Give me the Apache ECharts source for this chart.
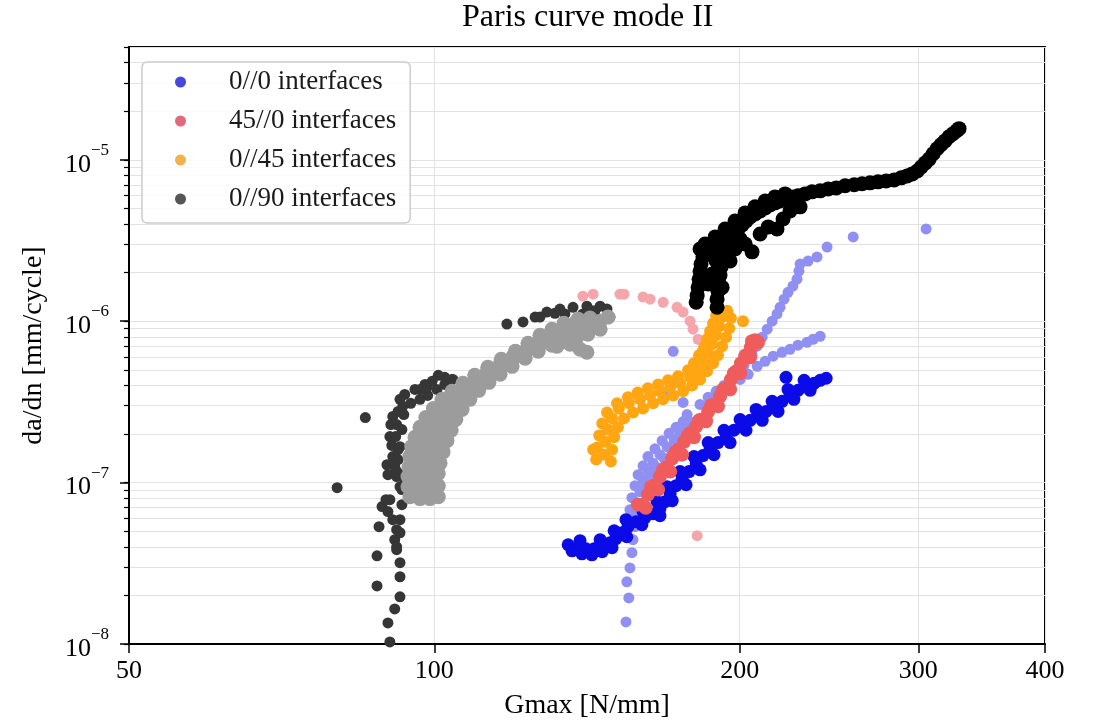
<!DOCTYPE html>
<html>
<head>
<meta charset="utf-8">
<title>Paris curve mode II</title>
<script src="https://cdn.jsdelivr.net/npm/echarts@6/dist/echarts.min.js"></script>
<style>
  html, body { margin: 0; padding: 0; background: #fff; }
  #main { width: 1097px; height: 724px; }
</style>
</head>
<body>
<div id="main"></div>
<script>
// legend entries and tick values
const legendNames = ['0//0 interfaces', '45//0 interfaces', '0//45 interfaces', '0//90 interfaces']
const xTicks = [50, 100, 200, 300, 400]
const yDecades = [1e-8, 1e-7, 1e-6, 1e-5]
const yMantissas = [1, 2, 3, 4, 5, 6, 7, 8, 9]

// [Gmax N/mm, da/dn mm/cycle]
const pinkPts = [[140.1,1.43e-6],[143.4,1.47e-6],[152.4,1.47e-6],[153.8,1.47e-6],[160.6,1.41e-6],[163.2,1.37e-6],[168.1,1.31e-6],[173.5,1.22e-6],[175.9,1.14e-6],[178.7,1.00e-6],[179.9,8.92e-7],[182.0,7.73e-7],[183.6,6.51e-7],[184.5,5.49e-7],[181.6,4.69e-8]]

const lightBluePts = [
  [154.5,1.37e-8],[155.5,1.93e-8],[154.8,2.43e-8],[155.9,2.96e-8],[156.6,3.68e-8],[157.0,4.43e-8],[157.7,5.33e-8],
  [158.1,6.33e-8],[158.4,7.51e-8],[159.5,8.79e-8],[160.6,1.04e-7],[162.4,1.18e-7],[164.3,1.32e-7],[166.9,1.49e-7],[169.6,1.67e-7],[172.4,1.85e-7],[174.7,2.05e-7],[177.5,2.23e-7],[179.9,2.36e-7],
  [158.8,7.00e-8],[161.3,9.30e-8],[163.6,1.10e-7],[165.8,1.24e-7],[168.4,1.42e-7],[171.2,1.60e-7],[173.9,1.79e-7],[176.3,1.96e-7],
  [155.9,6.80e-8],[156.6,8.07e-8],[157.7,9.57e-8],[158.8,1.12e-7],[160.6,1.27e-7],[162.4,1.45e-7],[165.0,1.62e-7],[167.7,1.82e-7],[170.4,2.02e-7],[173.1,2.20e-7],[175.9,2.39e-7],
  [182.8,3.05e-7],[186.2,3.38e-7],[189.6,3.68e-7],[193.0,4.00e-7],[196.6,4.43e-7],[199.3,4.89e-7],[202.0,5.33e-7],
  [205.7,6.24e-7],[208.1,7.00e-7],[210.5,7.96e-7],[212.9,8.92e-7],[215.3,1.00e-6],[217.7,1.11e-6],[219.2,1.22e-6],[221.2,1.37e-6],[223.2,1.51e-6],[225.7,1.65e-6],[227.8,1.82e-6],[228.8,2.04e-6],[229.4,2.26e-6],[233.6,2.36e-6],[238.4,2.50e-6],[243.9,2.88e-6],[258.8,3.33e-6],[305.4,3.73e-6],
  [200.2,4.36e-7],[203.9,4.69e-7],[208.1,5.25e-7],[211.9,5.64e-7],[215.8,6.07e-7],[220.2,6.42e-7],[224.2,6.70e-7],[228.3,7.10e-7],[233.0,7.40e-7],[236.3,7.73e-7],[240.1,8.07e-7],
  [172.0,6.51e-7],[169.6,3.62e-7],[173.5,4.18e-7],[177.5,2.64e-7],[175.9,3.14e-7]
]

const darkBluePts = [
  [135.5,4.12e-8],[138.2,3.95e-8],[141.1,3.89e-8],[143.7,3.89e-8],[146.7,4.06e-8],[149.0,4.24e-8],[151.0,4.49e-8],[153.1,4.89e-8],[155.2,5.33e-8],[158.1,5.73e-8],[161.3,6.07e-8],[164.3,6.42e-8],[166.9,6.90e-8],[168.8,7.62e-8],[170.8,8.54e-8],[173.1,9.57e-8],[175.5,1.06e-7],[178.3,1.17e-7],[181.2,1.31e-7],[184.0,1.47e-7],[187.0,1.62e-7],[190.4,1.77e-7],[193.9,1.93e-7],[197.4,2.11e-7],[201.1,2.26e-7],[204.8,2.43e-7],[208.6,2.60e-7],[212.4,2.76e-7],[216.2,2.92e-7],[220.2,3.19e-7],[224.2,3.47e-7],[228.3,3.73e-7],[232.5,3.94e-7],[236.8,4.12e-7],[240.1,4.30e-7],[243.4,4.43e-7],
  [136.7,3.78e-8],[139.8,3.62e-8],[143.0,3.57e-8],[146.4,3.73e-8],[149.7,3.95e-8],[154.8,4.62e-8],[160.2,5.49e-8],[166.9,6.24e-8],[171.6,7.73e-8],[177.1,9.70e-8],[182.8,1.20e-7],[188.7,1.49e-7],[195.7,1.77e-7],[202.9,2.11e-7],[210.5,2.43e-7],[218.2,2.76e-7],[226.2,3.28e-7],[234.7,3.73e-7],
  [139.2,4.37e-8],[145.7,4.43e-8],[150.4,5.03e-8],[154.5,5.89e-8],[160.6,6.61e-8],[165.8,7.62e-8],[169.6,9.43e-8],[174.7,1.17e-7],[180.3,1.45e-7],[186.2,1.77e-7],[193.0,2.11e-7],[200.2,2.46e-7],[207.6,2.84e-7],[215.3,3.19e-7],[223.2,3.78e-7],[231.5,4.30e-7],
  [222.2,4.49e-7]
]

const redPts = [
  [160.2,7.30e-8],[162.4,8.42e-8],[164.7,9.57e-8],[166.9,1.09e-7],[169.3,1.24e-7],[171.6,1.41e-7],[173.9,1.60e-7],[176.3,1.79e-7],[178.7,2.02e-7],[181.2,2.23e-7],[183.6,2.46e-7],[186.2,2.76e-7],[188.7,3.05e-7],[191.3,3.42e-7],[193.9,3.84e-7],[196.1,4.36e-7],[198.4,4.89e-7],[200.6,5.49e-7],[202.9,6.15e-7],[205.2,6.90e-7],[207.1,7.62e-7],
  [158.7,7.30e-8],[163.6,9.43e-8],[168.1,1.20e-7],[172.8,1.55e-7],[177.9,1.96e-7],[182.4,2.43e-7],[187.5,3.01e-7],[192.6,3.78e-7],[197.4,4.76e-7],[202.5,6.07e-7],[205.7,7.51e-7],
  [161.6,6.99e-8],[166.2,9.05e-8],[170.8,1.17e-7],[175.5,1.49e-7],[180.3,1.91e-7],[185.3,2.40e-7],[190.4,2.97e-7],[195.7,3.78e-7],[200.2,4.76e-7],[204.8,5.97e-7],[208.5,7.40e-7]
]

const orangePts = [
  [144.4,1.39e-7],[144.7,1.65e-7],[145.4,1.96e-7],[146.4,2.32e-7],[148.0,2.72e-7],[151.4,3.10e-7],[155.2,3.38e-7],[158.7,3.62e-7],[162.4,3.84e-7],[166.2,4.06e-7],[170.0,4.30e-7],[173.9,4.56e-7],[177.9,4.96e-7],[180.3,5.49e-7],[182.4,6.15e-7],[184.5,6.90e-7],[185.7,7.73e-7],[187.0,8.67e-7],[188.3,9.72e-7],[189.6,1.09e-6],
  [149.3,1.35e-7],[149.7,1.60e-7],[150.4,1.91e-7],[151.7,2.20e-7],[153.8,2.50e-7],[157.0,2.72e-7],[160.6,2.88e-7],[164.3,3.10e-7],[168.1,3.28e-7],[172.0,3.47e-7],[175.9,3.68e-7],[179.5,4.00e-7],[182.8,4.36e-7],[185.7,4.89e-7],[188.3,5.49e-7],[190.4,6.15e-7],[192.2,7.00e-7],[193.9,7.96e-7],[195.3,9.05e-7],[196.1,1.045e-6],
  [147.0,1.49e-7],[147.4,1.79e-7],[148.3,2.13e-7],[149.7,2.50e-7],[152.0,2.88e-7],[155.5,3.10e-7],[159.5,3.28e-7],[163.2,3.47e-7],[166.9,3.68e-7],[170.8,3.89e-7],[174.7,4.12e-7],[178.7,4.49e-7],[181.6,4.96e-7],[184.0,5.56e-7],[186.2,6.33e-7],[187.9,7.20e-7],[189.6,8.19e-7],[190.9,9.32e-7],[192.2,1.06e-6],
  [201.5,1.00e-6],[194.4,1.16e-6],[143.4,1.60e-7]
]

const darkGrayPts = [
  [122.3,9.9e-7],[125.7,1.06e-6],[129.1,1.14e-6],[133.0,1.19e-6],[137.0,1.22e-6],[141.4,1.24e-6],[145.7,1.24e-6],[148.0,1.19e-6],[149.0,1.06e-6],[140.1,1.11e-6],[134.5,1.11e-6],[144.0,1.16e-6],[131.5,1.12e-6],[142.4,1.17e-6],[127.1,1.06e-6],
  [104.3,4.36e-7],[102.4,4.06e-7],[100.6,3.78e-7],[98.5,3.47e-7],[96.8,3.28e-7],[94.8,3.10e-7],[93.1,2.97e-7],[92.1,2.76e-7],[91.0,2.57e-7],[90.6,2.29e-7],[90.4,1.93e-7],[90.8,1.70e-7],[91.0,1.45e-7],[91.4,1.27e-7],[91.8,1.09e-7],
  [93.5,3.52e-7],[95.7,3.78e-7],[97.9,4.06e-7],[92.5,3.28e-7],[91.8,2.29e-7],[92.1,1.60e-7],[91.6,1.20e-7],[92.9,2.13e-7],[93.3,2.64e-7],[102.4,4.49e-7],[99.5,4.24e-7],
  [117.9,9.6e-7],[100.9,4.62e-7],[98.3,3.89e-7],[85.5,2.53e-7],[80.2,9.3e-8],[96.8,3.78e-7],[104.1,4.36e-7],
  [91.6,1.93e-7],[92.5,1.67e-7],[92.1,1.39e-7],[89.8,1.29e-7],[92.1,1.15e-7],[90.0,1.12e-7],[92.5,9.43e-8],[89.6,7.84e-8],[90.4,7.84e-8],[92.9,7.30e-8],[88.8,7.10e-8],[90.0,6.61e-8],[92.5,5.89e-8],[91.0,5.89e-8],[88.2,5.33e-8],[91.8,5.11e-8],[91.4,4.43e-8],[92.5,4.89e-8],[91.8,4.00e-8],[91.8,3.84e-8],[87.8,3.52e-8],[92.5,3.19e-8],[92.5,2.61e-8],[87.8,2.29e-8],[92.5,1.96e-8],[91.4,1.65e-8],[90.0,1.35e-8],[90.4,1.03e-8],[93.5,1.04e-7],[92.9,9.05e-8]
]

const lightGrayPts = [
  [94.6,8.18e-8],[96.8,7.96e-8],[99.0,7.96e-8],[100.9,8.18e-8],
  [94.2,9.43e-8],[96.3,9.30e-8],[98.5,9.30e-8],[100.9,9.57e-8],
  [94.2,1.09e-7],[96.3,1.09e-7],[98.5,1.09e-7],[100.9,1.14e-7],
  [94.4,1.25e-7],[96.6,1.25e-7],[98.8,1.27e-7],[101.3,1.32e-7],
  [94.6,1.45e-7],[96.8,1.45e-7],[99.3,1.49e-7],[102.0,1.55e-7],
  [95.0,1.67e-7],[97.2,1.67e-7],[100.0,1.72e-7],[102.9,1.82e-7],
  [95.7,1.91e-7],[98.1,1.93e-7],[100.9,2.02e-7],[103.9,2.11e-7],
  [96.8,2.20e-7],[99.3,2.26e-7],[102.0,2.36e-7],[105.0,2.46e-7],
  [98.1,2.53e-7],[100.9,2.60e-7],[103.6,2.72e-7],[106.5,2.84e-7],
  [99.8,2.88e-7],[102.5,3.01e-7],[105.3,3.14e-7],[108.4,3.28e-7],
  [101.8,3.28e-7],[104.6,3.42e-7],[107.4,3.57e-7],[110.6,3.73e-7],
  [104.1,3.68e-7],[107.0,3.84e-7],[109.9,4.00e-7],[113.2,4.18e-7],
  [106.7,4.12e-7],[109.6,4.30e-7],[112.7,4.49e-7],[116.1,4.69e-7],
  [109.6,4.62e-7],[112.7,4.82e-7],[115.8,5.03e-7],[119.3,5.25e-7],
  [112.9,5.18e-7],[116.1,5.41e-7],[119.3,5.64e-7],[122.9,5.89e-7],
  [116.4,5.81e-7],[119.6,6.07e-7],[122.9,6.33e-7],[126.6,6.51e-7],
  [120.2,6.51e-7],[123.5,6.80e-7],[126.8,7.00e-7],[130.6,7.10e-7],
  [123.7,7.30e-7],[127.1,7.51e-7],[130.6,7.62e-7],[134.5,7.51e-7],
  [127.1,8.19e-7],[130.6,8.31e-7],[134.2,8.31e-7],[138.2,7.96e-7],
  [130.6,8.92e-7],[134.2,9.05e-7],[137.9,8.92e-7],[141.7,8.31e-7],
  [134.2,9.72e-7],[137.9,9.86e-7],[141.7,9.45e-7],[145.7,8.92e-7],
  [138.6,1.03e-6],[142.4,1.045e-6],[145.7,1.00e-6],[148.3,1.06e-6],
  [132.1,7.00e-7],[139.2,6.70e-7],[141.4,6.42e-7],[136.1,7.20e-7]
]

const blackPts = [
  [181.2,1.31e-6],[181.6,1.44e-6],[182.0,1.62e-6],[182.4,1.82e-6],[182.8,2.04e-6],[183.2,2.26e-6],[184.0,2.50e-6],
  [190.0,1.22e-6],[190.0,1.37e-6],[190.4,1.53e-6],[190.9,1.72e-6],[191.3,1.93e-6],[191.7,2.16e-6],[189.6,2.36e-6],
  [185.7,2.61e-6],[187.9,2.80e-6],[190.4,2.97e-6],[193.1,3.14e-6],[195.3,3.33e-6],[197.0,3.52e-6],[199.3,3.73e-6],[201.1,3.95e-6],[202.9,4.18e-6],[204.8,4.43e-6],[207.1,4.62e-6],[209.5,4.82e-6],[211.9,5.03e-6],[214.3,5.25e-6],[216.7,5.41e-6],[219.2,5.56e-6],[222.2,5.73e-6],[225.2,5.89e-6],[228.3,5.98e-6],[232.0,6.15e-6],[235.7,6.33e-6],[240.1,6.42e-6],[244.5,6.60e-6],[249.0,6.70e-6],[254.1,6.90e-6],[259.4,7.00e-6],[264.1,7.10e-6],[268.9,7.20e-6],[273.8,7.30e-6],[278.9,7.40e-6],[284.0,7.51e-6],[288.6,7.73e-6],[292.5,7.95e-6],[295.9,8.18e-6],[299.3,8.52e-6],[302.0,9.03e-6],[304.8,9.57e-6],[307.5,1.01e-5],[310.3,1.09e-5],[313.1,1.17e-5],[315.9,1.24e-5],[318.8,1.31e-5],[321.7,1.39e-5],[324.6,1.45e-5],[327.6,1.52e-5],[329.1,1.56e-5],
  [187.9,1.96e-6],[186.2,1.70e-6],[193.5,2.61e-6],[197.9,2.80e-6],[202.5,3.01e-6],[205.7,2.69e-6],[209.5,3.47e-6],[213.4,3.84e-6],[217.7,3.73e-6],[220.7,4.30e-6],[224.2,4.82e-6],[229.4,5.11e-6],[200.2,3.23e-6],[195.7,2.36e-6],[192.2,1.62e-6],
  [184.9,3.01e-6],[189.2,3.33e-6],[193.5,3.73e-6],[197.9,4.18e-6],[202.5,4.69e-6],[207.1,5.11e-6],[211.9,5.56e-6],[216.7,5.89e-6],[221.7,6.15e-6],[182.8,2.80e-6]
]

const serif = "'Liberation Serif', 'DejaVu Serif', serif"
const legendColors = ['#4747dc', '#e2687a', '#f0b24f', '#555555']

const yMinor = []
yDecades.forEach(d => yMantissas.forEach(m => yMinor.push(m * d)))

function dots(name, data, color, size) {
  return {
    type: 'scatter',
    name: name,
    data: data,
    symbol: 'circle',
    symbolSize: size,
    itemStyle: { color: color, opacity: 1 },
    emphasis: { disabled: true },
    silent: true,
    xAxisIndex: 0,
    yAxisIndex: 0
  }
}

const option = {
  animation: false,
  backgroundColor: '#fff',
  title: {
    text: 'Paris curve mode II',
    left: 462,
    top: 2,
    padding: 0,
    textStyle: { fontFamily: serif, fontSize: 32, fontWeight: 'normal', color: '#000' }
  },
  legend: {
    orient: 'vertical',
    left: 142,
    top: 62,
    padding: [5, 14, 9, 33],
    itemWidth: 11,
    itemHeight: 11,
    itemGap: 9,
    icon: 'circle',
    selectedMode: false,
    backgroundColor: 'rgba(255,255,255,0.85)',
    borderColor: '#cccccc',
    borderWidth: 1.5,
    borderRadius: 5,
    textStyle: { fontFamily: serif, fontSize: 27, color: '#1a1a1a', lineHeight: 30, padding: [0, 0, 0, 38] },
    data: legendNames.map((n, i) => ({ name: n, itemStyle: { color: legendColors[i] } }))
  },
  grid: {
    left: 129, right: 52, top: 47, bottom: 80,
    show: true, borderColor: '#000', borderWidth: 2,
    outerBoundsMode: 'none'
  },
  xAxis: [{
    type: 'log',
    min: 50,
    max: 400,
    name: 'Gmax [N/mm]',
    nameLocation: 'middle',
    nameGap: 48,
    nameTextStyle: { fontFamily: serif, fontSize: 28, color: '#000' },
    axisLine: { show: true, lineStyle: { color: '#000', width: 2 } },
    axisTick: { show: true, length: 9, customValues: xTicks, lineStyle: { color: '#000', width: 1.5 } },
    axisLabel: {
      customValues: xTicks,
      margin: 14,
      fontFamily: serif, fontSize: 26, color: '#000',
      formatter: v => String(Math.round(v))
    },
    splitLine: { show: true, lineStyle: { color: '#e2e2e2', width: 1 } },
    minorTick: { show: false }
  }],
  yAxis: [{
    type: 'log',
    position: 'left',
    min: 1e-8,
    max: 5e-5,
    name: 'da/dn [mm/cycle]',
    nameLocation: 'middle',
    nameGap: 81,
    nameTextStyle: { fontFamily: serif, fontSize: 28, color: '#000' },
    axisLine: { show: true, lineStyle: { color: '#000', width: 2 } },
    axisTick: { show: true, length: 5, customValues: yMinor, lineStyle: { color: '#000', width: 1.2 } },
    axisLabel: { show: false },
    splitLine: { show: true, lineStyle: { color: '#e2e2e2', width: 1 } }
  }, {
    type: 'log',
    position: 'left',
    offset: 0,
    min: 1e-8,
    max: 5e-5,
    axisLine: { show: false },
    axisTick: { show: true, length: 9, customValues: yDecades, lineStyle: { color: '#000', width: 1.5 } },
    axisLabel: {
      customValues: yDecades,
      margin: 20,
      formatter: v => '{b|10}{s|\u2212' + (-Math.round(Math.log10(v))) + '}',
      rich: {
        b: { fontFamily: serif, fontSize: 26, color: '#000', lineHeight: 36, verticalAlign: 'bottom' },
        s: { fontFamily: serif, fontSize: 17, color: '#000', lineHeight: 14, verticalAlign: 'top' }
      }
    },
    splitLine: { show: false }
  }],
  series: [
    dots(legendNames[1], pinkPts, '#f4a6ab', 11),
    dots(legendNames[0], lightBluePts, '#9090f2', 11),
    dots(legendNames[0], darkBluePts, '#0b0be8', 13),
    dots(legendNames[1], redPts, '#f05c5c', 14),
    dots(legendNames[2], orangePts, '#ffa612', 12),
    dots(legendNames[3], darkGrayPts, '#363636', 11),
    dots(legendNames[3], lightGrayPts, '#9c9c9c', 15),
    dots(legendNames[3], blackPts, '#000000', 15)
  ]
}

const chart = echarts.init(document.getElementById('main'))
chart.setOption(option)
</script>
</body>
</html>
